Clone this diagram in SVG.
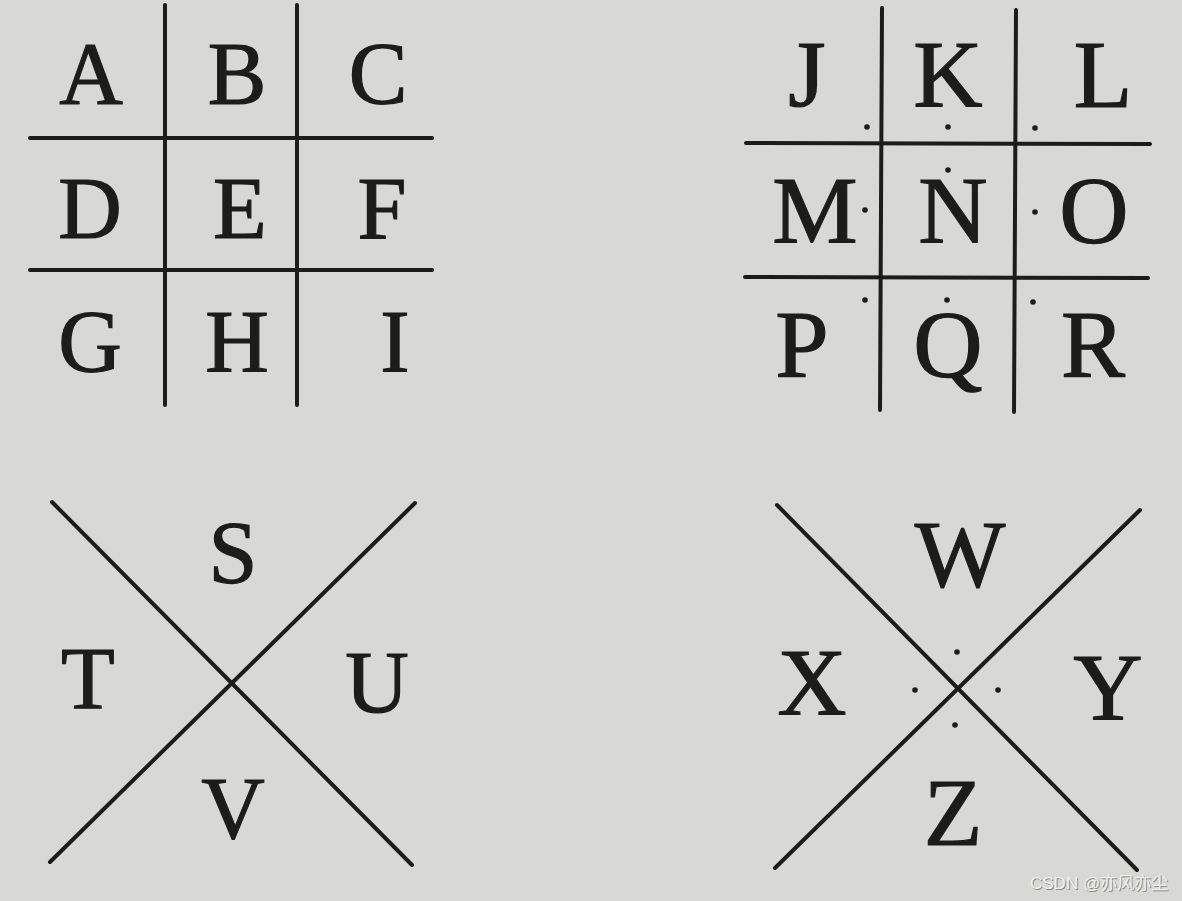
<svg xmlns="http://www.w3.org/2000/svg" width="1182" height="901" viewBox="0 0 1182 901">
<style>
.ln{stroke:#1c1c1a;stroke-width:4;stroke-linecap:round;fill:none}
.lt{font-family:"Liberation Serif","Times New Roman",serif;fill:#1c1c1a;stroke:#1c1c1a;stroke-width:1.2;text-anchor:middle}
.a{font-size:88px}
.b{font-size:96px}
.d{fill:#1c1c1a}
.wm{font-family:"Liberation Sans",Arial,"Noto Sans CJK SC",sans-serif;font-size:17px}
</style>
<rect width="1182" height="901" fill="#d8d9d4"/>
<g id="grid1">
<line class="ln" x1="165" y1="5" x2="165" y2="405"/>
<line class="ln" x1="297" y1="5" x2="297" y2="405"/>
<line class="ln" x1="30" y1="138" x2="432" y2="138"/>
<line class="ln" x1="30" y1="270" x2="432" y2="270"/>
<text class="lt a" x="91" y="103">A</text>
<text class="lt a" x="237" y="103">B</text>
<text class="lt a" x="378" y="103">C</text>
<text class="lt a" x="90" y="238">D</text>
<text class="lt a" x="240" y="238">E</text>
<text class="lt a" x="382" y="238">F</text>
<text class="lt a" x="90" y="371">G</text>
<text class="lt a" x="237" y="371">H</text>
<text class="lt a" x="395" y="371">I</text>
</g>
<g id="grid2">
<line class="ln" x1="882" y1="8" x2="880" y2="410"/>
<line class="ln" x1="1016" y1="10" x2="1014" y2="412"/>
<line class="ln" x1="746" y1="143" x2="1150" y2="144"/>
<line class="ln" x1="745" y1="277" x2="1148" y2="278"/>
<text class="lt b" x="807" y="107">J</text>
<text class="lt b" x="948" y="107">K</text>
<text class="lt b" x="1103" y="107">L</text>
<text class="lt b" x="815" y="243">M</text>
<text class="lt b" x="953" y="243">N</text>
<text class="lt b" x="1094" y="243">O</text>
<text class="lt b" x="802" y="377">P</text>
<text class="lt b" x="948" y="377">Q</text>
<text class="lt b" x="1093" y="377">R</text>
<circle class="d" cx="867" cy="127" r="2.8"/>
<circle class="d" cx="948" cy="127" r="2.8"/>
<circle class="d" cx="1035" cy="128" r="2.8"/>
<circle class="d" cx="865" cy="210" r="2.8"/>
<circle class="d" cx="948" cy="170" r="2.8"/>
<circle class="d" cx="1035" cy="212" r="2.8"/>
<circle class="d" cx="865" cy="300" r="2.8"/>
<circle class="d" cx="947" cy="300" r="2.8"/>
<circle class="d" cx="1033" cy="302" r="2.8"/>
</g>
<g id="x1">
<line class="ln" x1="52" y1="502" x2="412" y2="865"/>
<line class="ln" x1="415" y1="503" x2="50" y2="862"/>
<text class="lt a" x="233" y="582">S</text>
<text class="lt a" x="88" y="708">T</text>
<text class="lt a" x="377" y="712">U</text>
<text class="lt a" x="233" y="838">V</text>
</g>
<g id="x2">
<line class="ln" x1="777" y1="505" x2="1137" y2="870"/>
<line class="ln" x1="1140" y1="510" x2="775" y2="868"/>
<text class="lt b" x="960" y="587">W</text>
<text class="lt b" x="812" y="715">X</text>
<text class="lt b" x="1108" y="720">Y</text>
<text class="lt b" x="953" y="845">Z</text>
<circle class="d" cx="957" cy="652" r="2.8"/>
<circle class="d" cx="915" cy="690" r="2.8"/>
<circle class="d" cx="998" cy="690" r="2.8"/>
<circle class="d" cx="955" cy="725" r="2.8"/>
</g>
<g id="watermark">
<text class="wm" x="1031" y="890" fill="#8a8a86">CSDN @亦风亦尘</text>
<text class="wm" x="1030" y="889" fill="#f2f2ee">CSDN @亦风亦尘</text>
</g>
</svg>
